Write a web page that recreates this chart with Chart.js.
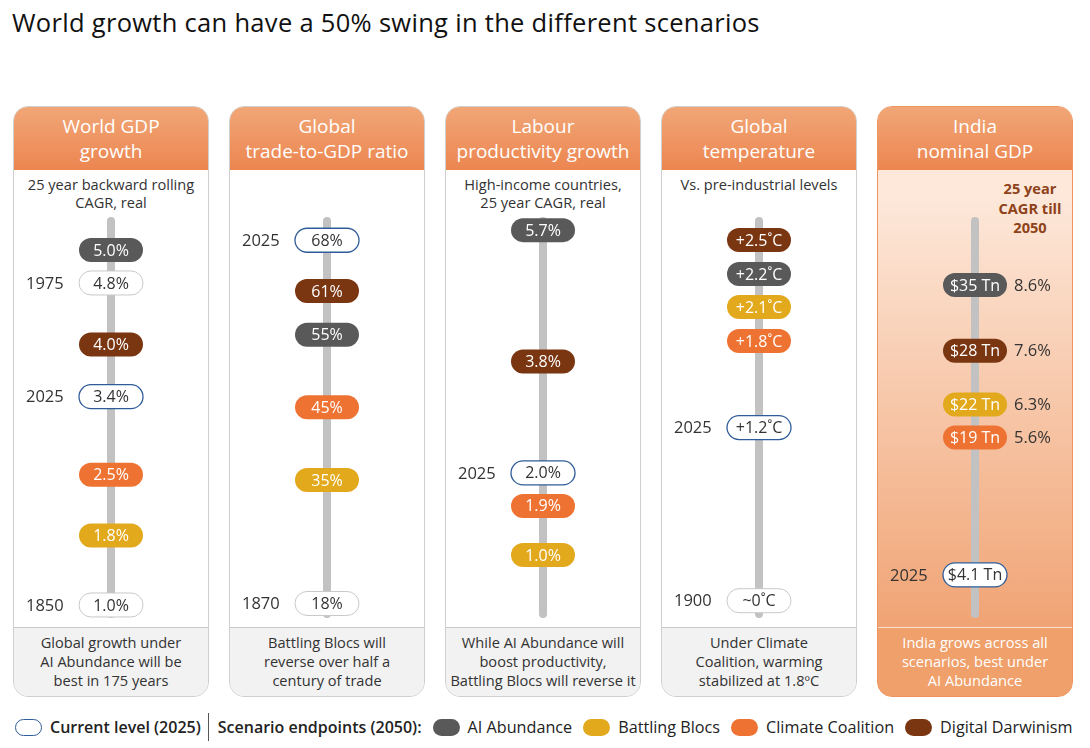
<!DOCTYPE html>
<html>
<head>
<meta charset="utf-8">
<script src="https://cdn.jsdelivr.net/npm/chart.js@4.4.1/dist/chart.umd.min.js"></script>
<style>
  body { margin: 0; background: #fff; font-family: "Open Sans", "Noto Sans", sans-serif; color: #222; }
  #page { position: relative; width: 1090px; height: 748px; overflow: hidden; }
  #title { position: absolute; left: 12px; top: 5px; font-size: 25.5px; letter-spacing: 0.3px; line-height: 34px; color: #111; }
  .panel { position: absolute; top: 106px; width: 196px; height: 591px; box-sizing: border-box;
           border: 1px solid #cfcfcf; border-radius: 15px; overflow: hidden; background: #fff; }
  .head { position: absolute; left: 0; top: 0; width: 100%; height: 63px; color: #fff; font-size: 19px;
          line-height: 25px; text-align: center; display: flex; flex-direction: column; justify-content: center;
          background: linear-gradient(to bottom, #f1a677, #ec8650); }
  .sub { position: absolute; left: 0; top: 68px; width: 100%; text-align: center; font-size: 14.6px; line-height: 18px; color: #333; }
  .body { position: absolute; left: 0; top: 63px; width: 194px; height: 457px; }
  .foot { position: absolute; left: 0; top: 520px; width: 100%; height: 70px; border-top: 1px solid #c8c8c8;
          background: #f2f2f2; text-align: center; font-size: 14.6px; line-height: 19px; color: #333;
          padding-top: 5px; box-sizing: border-box; }
  .panel.india { border-color: #ee9560; background: linear-gradient(to bottom, #fde8da 15%, #f0a272 90%); }
  .panel.india .foot { background: #f0a06b; color: #fff; border-top: 1px solid #fbe0cc; }
  .cagr { position: absolute; left: 114px; top: 72px; width: 76px; text-align: center; font-size: 14.6px;
          font-weight: 700; line-height: 19.5px; color: #8e4219; }
  #legend { position: absolute; left: 15px; top: 713px; height: 28px; display: flex; align-items: center;
            font-size: 16.2px; color: #222; white-space: nowrap; }
  .sw { display: inline-block; width: 27px; height: 17px; border-radius: 9px; margin-right: 8px; box-sizing: border-box; }
  .lg { margin-right: 11px; }
  .strong { font-weight: 600; font-size: 16px; }
  .sep { width: 1px; height: 28px; background: #555; margin: 0 9px 0 7px; }
</style>
</head>
<body>
<div id="page">
  <div id="title">World growth can have a 50% swing in the different scenarios</div>
  <div id="panels"></div>
  <div id="legend"></div>
</div>
<script>
// Panel texts
const panelTitles = [
  ['World GDP', 'growth'],
  ['Global', 'trade-to-GDP ratio'],
  ['Labour', 'productivity growth'],
  ['Global', 'temperature'],
  ['India', 'nominal GDP']
];
const panelSubtitles = [
  ['25 year backward rolling', 'CAGR, real'],
  [],
  ['High-income countries,', '25 year CAGR, real'],
  ['Vs. pre-industrial levels'],
  []
];
const panelFooters = [
  ['Global growth under', 'AI Abundance will be', 'best in 175 years'],
  ['Battling Blocs will', 'reverse over half a', 'century of trade'],
  ['While AI Abundance will', 'boost productivity,', 'Battling Blocs will reverse it'],
  ['Under Climate', 'Coalition, warming', 'stabilized at 1.8ºC'],
  ['India grows across all', 'scenarios, best under', 'AI Abundance']
];

// Scenario legend
const scenarioKeys = ['ai', 'bb', 'cc', 'dd'];
const scenarioNames = ['AI Abundance', 'Battling Blocs', 'Climate Coalition', 'Digital Darwinism'];

// World GDP growth (%)
const gdpValues = [5.0, 4.8, 4.0, 3.4, 2.5, 1.8, 1.0];
const gdpKinds  = ['ai', 'hist', 'dd', 'now', 'cc', 'bb', 'hist'];
const gdpYears  = ['', '1975', '', '2025', '', '', '1850'];

// Trade-to-GDP ratio (%)
const tradeValues = [68, 61, 55, 45, 35, 18];
const tradeKinds  = ['now', 'dd', 'ai', 'cc', 'bb', 'hist'];
const tradeYears  = ['2025', '', '', '', '', '1870'];

// Labour productivity growth (%)
const prodValues = [5.7, 3.8, 2.0, 1.9, 1.0];
const prodKinds  = ['ai', 'dd', 'now', 'cc', 'bb'];
const prodYears  = ['', '', '2025', '', ''];

// Temperature above pre-industrial (deg C)
const tempValues = [2.5, 2.2, 2.1, 1.8, 1.2, 0];
const tempKinds  = ['dd', 'ai', 'bb', 'cc', 'now', 'hist'];
const tempYears  = ['', '', '', '', '2025', '1900'];

// India nominal GDP ($ Tn) and 25 year CAGR till 2050 (%)
const indiaValues = [35, 28, 22, 19, 4.1];
const indiaKinds  = ['ai', 'dd', 'bb', 'cc', 'now'];
const indiaYears  = ['', '', '', '', '2025'];
const indiaCagr   = [8.6, 7.6, 6.3, 5.6, null];

const COLORS = { ai: '#595959', bb: '#e2a91c', cc: '#ee7333', dd: '#7a3511' };
const NOW_BORDER = '#2f5c98';
const HIST_BORDER = '#c9c9c9';

const panels = [
  { values: gdpValues, kinds: gdpKinds, years: gdpYears, min: 0.85, max: 5.47,
    fmt: v => v.toFixed(1) + '%' },
  { values: tradeValues, kinds: tradeKinds, years: tradeYears, min: 16.0, max: 71.2,
    fmt: v => v + '%' },
  { values: prodValues, kinds: prodKinds, years: prodYears, min: 0.09, max: 5.89,
    fmt: v => v.toFixed(1) + '%' },
  { values: tempValues, kinds: tempKinds, years: tempYears, min: -0.12, max: 2.66,
    fmt: v => v === 0 ? '~0˚C' : '+' + v.toFixed(1) + '˚C' },
  { values: indiaValues, kinds: indiaKinds, years: indiaYears, min: -0.5, max: 42.25,
    fmt: v => '$' + v + ' Tn', right: indiaCagr.map(c => c === null ? '' : c.toFixed(1) + '%') }
];

// push labels apart so pills never overlap
function dodge(ys, gap) {
  const out = ys.slice();
  const order = out.map((_, i) => i).sort((a, b) => out[a] - out[b]);
  for (let it = 0; it < 30; it++) {
    for (let k = 1; k < order.length; k++) {
      const a = order[k - 1], b = order[k];
      const d = out[b] - out[a];
      if (d < gap) {
        const s = (gap - d) / 2;
        out[a] -= s;
        out[b] += s;
      }
    }
  }
  return out;
}

const pillPlugin = {
  id: 'pills',
  beforeDatasetsDraw(chart) {
    const { ctx, chartArea } = chart;
    const x = chart.scales.x.getPixelForValue(0);
    ctx.save();
    ctx.strokeStyle = '#c2c2c2';
    ctx.lineWidth = 8;
    ctx.lineCap = 'round';
    ctx.beginPath();
    ctx.moveTo(x, chartArea.top + 4);
    ctx.lineTo(x, chartArea.bottom - 4);
    ctx.stroke();
    ctx.restore();
  },
  afterDatasetsDraw(chart, args, opts) {
    const { ctx } = chart;
    const meta = chart.getDatasetMeta(0);
    const ys = dodge(meta.data.map(p => p.y), 33);
    const w = 64, h = 24;
    ctx.save();
    ctx.textBaseline = 'middle';
    meta.data.forEach((pt, i) => {
      const cx = pt.x, cy = ys[i];
      const kind = opts.kinds[i];
      ctx.beginPath();
      ctx.roundRect(cx - w / 2, cy - h / 2, w, h, h / 2);
      if (COLORS[kind]) {
        ctx.fillStyle = COLORS[kind];
        ctx.fill();
      } else {
        ctx.fillStyle = '#fff';
        ctx.fill();
        ctx.lineWidth = kind === 'now' ? 1.3 : 1;
        ctx.strokeStyle = kind === 'now' ? NOW_BORDER : HIST_BORDER;
        ctx.stroke();
      }
      ctx.font = '16px "Open Sans", sans-serif';
      ctx.textAlign = 'center';
      ctx.fillStyle = COLORS[kind] ? '#fff' : '#333';
      ctx.fillText(opts.labels[i], cx, cy + 1);
      ctx.font = '16.5px "Open Sans", sans-serif';
      ctx.fillStyle = '#333';
      if (opts.years[i]) {
        ctx.textAlign = 'left';
        ctx.fillText(opts.years[i], 12, cy + 1);
      }
      if (opts.right && opts.right[i]) {
        ctx.textAlign = 'left';
        ctx.fillText(opts.right[i], cx + w / 2 + 7, cy + 1);
      }
    });
    ctx.restore();
  }
};

const panelsEl = document.getElementById('panels');
panels.forEach((p, idx) => {
  const el = document.createElement('div');
  el.className = 'panel' + (idx === 4 ? ' india' : '');
  el.style.left = (13 + idx * 216) + 'px';
  el.innerHTML =
    '<div class="head">' + panelTitles[idx].map(t => '<div>' + t + '</div>').join('') + '</div>' +
    '<div class="sub">' + panelSubtitles[idx].join('<br>') + '</div>' +
    (idx === 4 ? '<div class="cagr">25 year<br>CAGR till<br>2050</div>' : '') +
    '<div class="body"><canvas></canvas></div>' +
    '<div class="foot">' + panelFooters[idx].join('<br>') + '</div>';
  panelsEl.appendChild(el);

  new Chart(el.querySelector('canvas'), {
    type: 'scatter',
    data: {
      datasets: [{
        data: p.values.map(v => ({ x: 0, y: v })),
        pointRadius: 0,
        pointHoverRadius: 0
      }]
    },
    options: {
      responsive: true,
      maintainAspectRatio: false,
      animation: false,
      events: [],
      layout: { padding: { top: 47, bottom: 9, left: 0, right: 0 } },
      scales: {
        x: { display: false, min: -1, max: 1 },
        y: { display: false, min: p.min, max: p.max }
      },
      plugins: {
        legend: { display: false },
        tooltip: { enabled: false },
        pills: {
          kinds: p.kinds,
          years: p.years,
          labels: p.values.map(p.fmt),
          right: p.right
        }
      }
    },
    plugins: [pillPlugin]
  });
});

// Legend
const legendEl = document.getElementById('legend');
let html = '<span class="sw" style="border:1.5px solid ' + NOW_BORDER + ';background:#fff"></span>' +
  '<span class="strong">Current level (2025)</span><span class="sep"></span>' +
  '<span class="strong lg">Scenario endpoints (2050):</span>';
scenarioKeys.forEach((k, i) => {
  html += '<span class="sw" style="background:' + COLORS[k] + '"></span><span class="lg">' + scenarioNames[i] + '</span>';
});
legendEl.innerHTML = html;
</script>
</body>
</html>
